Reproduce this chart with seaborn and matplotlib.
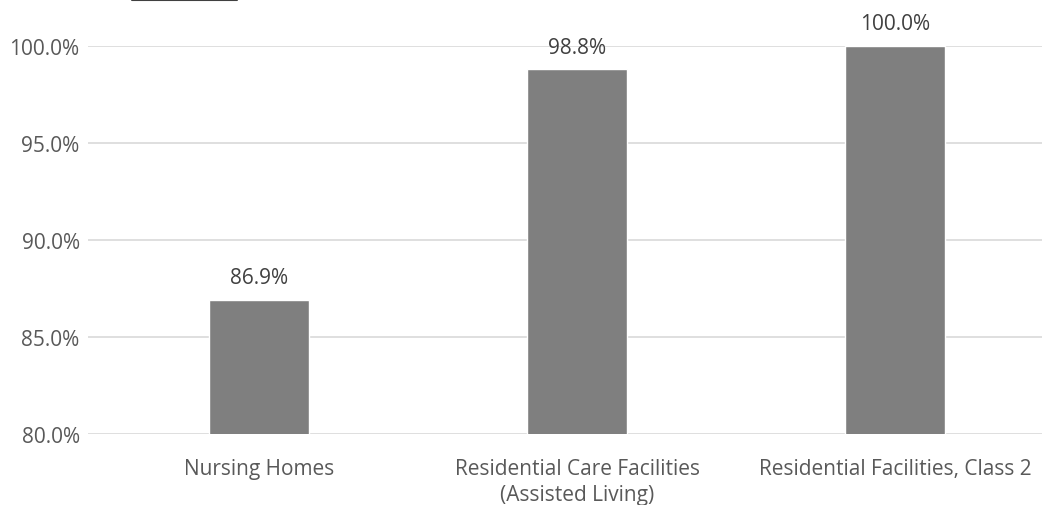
import matplotlib
matplotlib.use('Agg')
import matplotlib.pyplot as plt
import matplotlib.lines as mlines
import seaborn as sns
import pandas as pd

categories = ['Nursing Homes', 'Residential Care Facilities\n(Assisted Living)', 'Residential Facilities, Class 2']
values = [86.9, 98.8, 100.0]
yticks = [80, 85, 90, 95, 100]

sns.set_style('white')
plt.rcParams['font.family'] = ['Open Sans', 'DejaVu Sans']

df = pd.DataFrame({'category': categories, 'value': values})

fig = plt.figure(figsize=(10.42, 5.06), dpi=100)
ax = fig.add_axes([88 / 1042, 1 - 435 / 506, 954 / 1042, 388 / 506])

sns.barplot(data=df, x='category', y='value', color='#7f7f7f', saturation=1,
            width=0.314, ax=ax, zorder=2)

ax.set_xlim(-0.538, 2.462)
ax.set_ylim(80, 100)
ax.set_yticks(yticks)
ax.set_yticklabels([f'{t:.1f}%' for t in yticks])
ax.grid(axis='y', color='#d9d9d9', linewidth=1.2, zorder=0)
ax.set_axisbelow(True)
for s in ax.spines.values():
    s.set_visible(False)
ax.tick_params(axis='both', length=0, labelsize=15, colors='#595959')
ax.tick_params(axis='y', pad=6)
ax.tick_params(axis='x', pad=17)
for lbl in ax.get_xticklabels():
    lbl.set_linespacing(1.35)
ax.set_xlabel('')
ax.set_ylabel('')

for i, v in enumerate(values):
    ax.text(i, v + 0.6, f'{v:.1f}%', ha='center', va='bottom', fontsize=15,
            color='#404040', clip_on=False)

# fragment of a cut-off underline at the top edge
fig.add_artist(mlines.Line2D([132 / 1042, 237 / 1042], [0.999, 0.999],
                             color='#404040', linewidth=1.5, transform=fig.transFigure))

fig.savefig('out.png', dpi=100)
plt.close(fig)
